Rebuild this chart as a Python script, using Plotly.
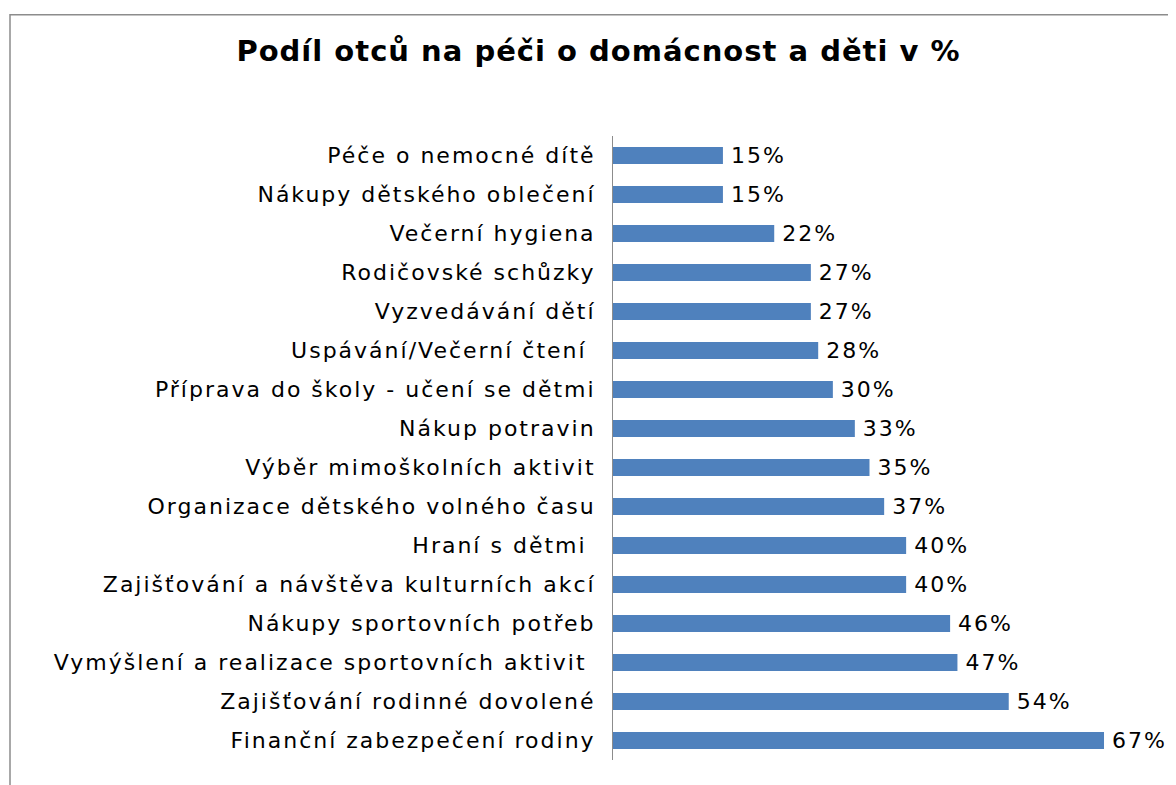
import plotly.graph_objects as go

categories = [
    "Péče o nemocné dítě",
    "Nákupy dětského oblečení",
    "Večerní hygiena",
    "Rodičovské schůzky",
    "Vyzvedávání dětí",
    "Uspávání/Večerní čtení ",
    "Příprava do školy - učení se dětmi",
    "Nákup potravin",
    "Výběr mimoškolních aktivit",
    "Organizace dětského volného času",
    "Hraní s dětmi ",
    "Zajišťování a návštěva kulturních akcí",
    "Nákupy sportovních potřeb",
    "Vymýšlení a realizace sportovních aktivit ",
    "Zajišťování rodinné dovolené",
    "Finanční zabezpečení rodiny",
]
values = [0.15, 0.15, 0.22, 0.27, 0.27, 0.28, 0.30, 0.33, 0.35, 0.37, 0.40, 0.40, 0.46, 0.47, 0.54, 0.67]
value_labels = ["15%", "15%", "22%", "27%", "27%", "28%", "30%", "33%", "35%", "37%", "40%", "40%", "46%", "47%", "54%", "67%"]

# page body has an 8px margin, so figure is 8px smaller than the window
W, H = 1168, 777
left, top, bottom_y, right_x = 605, 127.5, 752.5, 1118

fig = go.Figure(go.Bar(
    x=values, y=categories, orientation="h",
    marker=dict(color="#4F81BD", line=dict(width=0)),
    text=["\u00a0" + t for t in value_labels], textposition="outside",
    cliponaxis=False, constraintext="none",
    textfont=dict(family="DejaVu Sans", size=22, color="#000000"),
    hoverinfo="skip",
))

fig.update_layout(
    width=W, height=H,
    margin=dict(l=left, r=W - right_x, t=top, b=H - bottom_y, pad=0, autoexpand=False),
    paper_bgcolor="white", plot_bgcolor="white",
    bargap=0.56,
    showlegend=False,
    title=dict(text="<b>Podíl otců na péči o domácnost a děti v %</b>",
               x=590.5 / W, xanchor="center", y=1 - 43 / H, yanchor="middle",
               font=dict(family="DejaVu Sans", size=29, color="#000000")),
    font=dict(family="DejaVu Sans", color="#000000"),
    shapes=[dict(type="rect", xref="paper", yref="paper",
                 x0=-(left - 2) / (right_x - left), x1=1.3,
                 y0=-0.3, y1=1 + (top - 6) / (bottom_y - top),
                 line=dict(color="#8C8C8C", width=1.5), fillcolor="rgba(0,0,0,0)",
                 layer="below")],
)
fig.update_xaxes(range=[0, 0.7], showgrid=False, showticklabels=False, zeroline=False,
                 showline=False, ticks="", fixedrange=True)
fig.update_yaxes(autorange="reversed", showline=True, linecolor="#8C8C8C", linewidth=1,
                 ticks="", ticklabelstandoff=12, automargin=False, fixedrange=True,
                 tickfont=dict(family="DejaVu Sans", size=22, color="#000000"))

post = """
var gd = document.getElementById('{plot_id}');
function spacing(){
  gd.querySelectorAll('.ytick text').forEach(function(t){ t.style.letterSpacing = '2px'; });
  gd.querySelectorAll('.bartext').forEach(function(t){ t.style.letterSpacing = '2px'; });
  gd.querySelectorAll('.gtitle').forEach(function(t){ t.style.letterSpacing = '1px'; });
}
spacing();
gd.on('plotly_afterplot', spacing);
"""

fig.write_html("out.html", post_script=post, config={"displayModeBar": False})
